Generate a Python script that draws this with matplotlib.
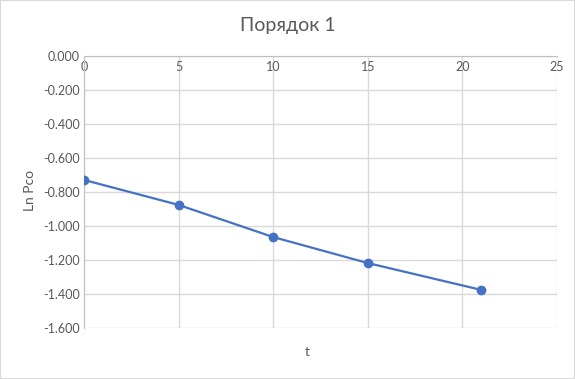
import matplotlib
matplotlib.use('Agg')

import matplotlib.pyplot as plt
from matplotlib.ticker import FormatStrFormatter, MultipleLocator
from matplotlib.patches import Rectangle

plt.rcParams['font.family'] = ['Lato', 'DejaVu Sans']

# data
t = [0, 5, 10, 15, 21]
ln_pco = [-0.729, -0.876, -1.065, -1.218, -1.376]

fig = plt.figure(figsize=(5.75, 3.79), dpi=100)
ax = fig.add_axes([84 / 575, 1 - 328 / 379, (557 - 84) / 575, (328 - 56) / 379])

ax.plot(t, ln_pco, color='#4472C4', linewidth=1.6, marker='o', markersize=6,
        markerfacecolor='#4472C4', markeredgecolor='#4472C4', zorder=3)

ax.set_xlim(0, 25)
ax.set_ylim(-1.6, 0)
ax.xaxis.set_major_locator(MultipleLocator(5))
ax.yaxis.set_major_locator(MultipleLocator(0.2))
ax.yaxis.set_major_formatter(FormatStrFormatter('%.3f'))

ax.grid(True, color='#D9D9D9', linewidth=1)
ax.set_axisbelow(True)

for s in ['right', 'bottom']:
    ax.spines[s].set_visible(False)
ax.spines['left'].set_color('#BFBFBF')
ax.spines['top'].set_color('#BFBFBF')

# x axis crosses at y = 0, labels sit just below it
ax.xaxis.set_ticks_position('top')
ax.tick_params(axis='x', length=0, pad=-12, labelsize=9, labelcolor='#595959')
ax.tick_params(axis='y', length=0, pad=3, labelsize=9, labelcolor='#595959')

fig.text(0.5, 1 - 26 / 379, 'Порядок 1', fontsize=14, color='#595959', ha='center', va='center')
fig.text(307 / 575, 1 - 352 / 379, 't', fontsize=10, color='#595959', ha='center', va='center')
fig.text(30 / 575, 1 - 190 / 379, 'Ln Pco', fontsize=10, color='#595959',
         ha='center', va='center', rotation=90)

fig.patches.append(Rectangle((0, 0), 1, 1, transform=fig.transFigure, fill=False,
                             edgecolor='#D9D9D9', linewidth=1.5))

fig.savefig('out.png', dpi=100)
